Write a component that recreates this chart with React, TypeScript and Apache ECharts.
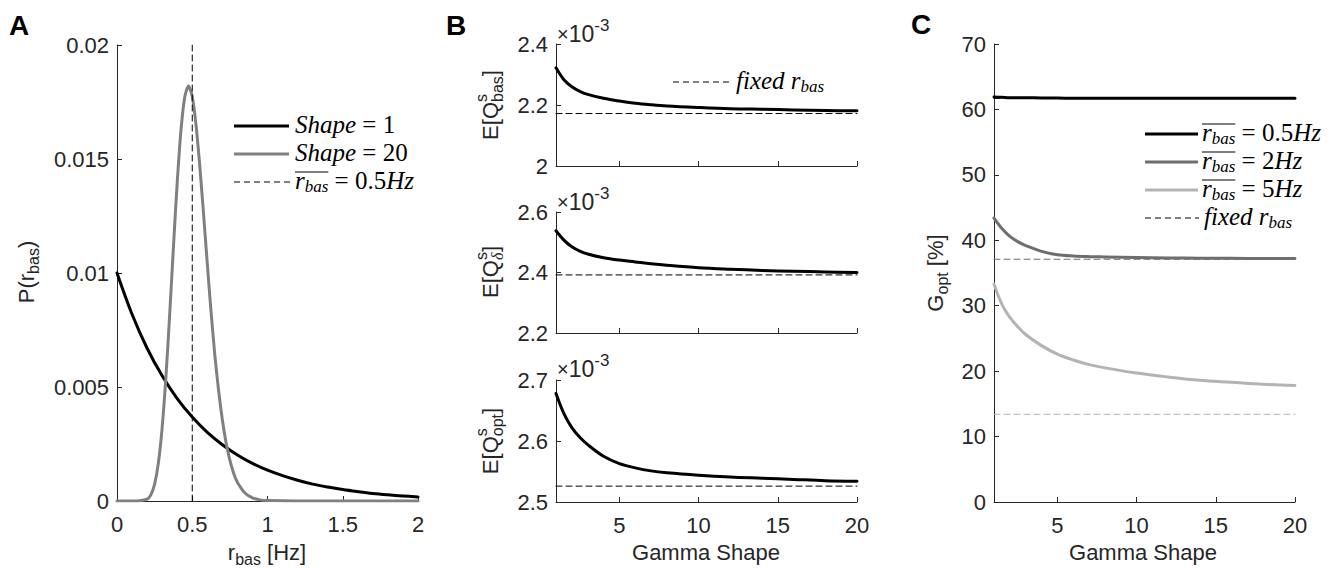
import React, { useEffect, useRef } from "react";
import * as echarts from "echarts";

// ---------------- DATA ----------------
// Panel A: distribution of basal rate
const rateX1 = [0, 0.1, 0.2, 0.3, 0.4, 0.5, 0.6, 0.7, 0.8, 0.9, 1.0, 1.1, 1.2, 1.3, 1.4, 1.5, 1.6, 1.7, 1.8, 1.9, 2.0];
const shape1P = [0.01, 0.00819, 0.0067, 0.00549, 0.00449, 0.00368, 0.00301, 0.00247, 0.00202, 0.00165, 0.00135, 0.00111, 0.00091, 0.00074, 0.00061, 0.0005, 0.00041, 0.00033, 0.00027, 0.00022, 0.00018];
const rateX20 = [0, 0.05, 0.1, 0.15, 0.2, 0.225, 0.25, 0.275, 0.3, 0.325, 0.35, 0.375, 0.4, 0.425, 0.45, 0.475, 0.5, 0.525, 0.55, 0.575, 0.6, 0.625, 0.65, 0.675, 0.7, 0.725, 0.75, 0.775, 0.8, 0.85, 0.9, 0.95, 1.0, 1.2, 1.5, 2.0];
const shape20P = [0, 0, 0, 0.00001, 0.00008, 0.00027, 0.00074, 0.00167, 0.00322, 0.00543, 0.00818, 0.01114, 0.01396, 0.01626, 0.01771, 0.0182, 0.01774, 0.0165, 0.0147, 0.0126, 0.0104, 0.0083, 0.0064, 0.00485, 0.00356, 0.00254, 0.00179, 0.00122, 0.00082, 0.00035, 0.00014, 0.00005, 0.00002, 0, 0, 0];
const meanRate = 0.5;
const aXTicks = { min: 0, max: 2, interval: 0.5 };
const aYTicks = { min: 0, max: 0.02, interval: 0.005 };

// Panels B & C: vs gamma shape
const gammaShape = [1, 1.5, 2, 2.5, 3, 4, 5, 6, 7, 8, 10, 12, 14, 16, 18, 20];
const qBas = [2.322, 2.283, 2.26, 2.245, 2.235, 2.222, 2.213, 2.206, 2.201, 2.197, 2.192, 2.188, 2.186, 2.184, 2.182, 2.181];
const qDelta = [2.538, 2.507, 2.485, 2.471, 2.461, 2.449, 2.441, 2.435, 2.429, 2.424, 2.416, 2.411, 2.407, 2.404, 2.402, 2.4];
const qOpt = [2.678, 2.645, 2.622, 2.606, 2.594, 2.575, 2.563, 2.556, 2.551, 2.548, 2.544, 2.541, 2.539, 2.537, 2.535, 2.534];
const qBasFixed = 2.172;
const qDeltaFixed = 2.392;
const qOptFixed = 2.526;

const gOpt05 = [61.9, 61.85, 61.8, 61.8, 61.8, 61.75, 61.75, 61.7, 61.7, 61.7, 61.7, 61.7, 61.7, 61.7, 61.7, 61.7];
const gOpt2 = [43.4, 41.8, 40.6, 39.8, 39.2, 38.3, 37.8, 37.6, 37.5, 37.45, 37.35, 37.3, 37.26, 37.24, 37.22, 37.2];
const gOpt5 = [33.3, 30.2, 28.2, 26.8, 25.6, 23.9, 22.6, 21.7, 21.0, 20.5, 19.7, 19.1, 18.6, 18.3, 18.0, 17.8];
const gFixed05 = 61.7;
const gFixed2 = 37.1;
const gFixed5 = 13.4;

const shapeTicks = [5, 10, 15, 20];

// ---------------- HELPERS ----------------
const SANS = "Liberation Sans";
const SERIF = "Liberation Serif";
const AXC = "#262626";
const LF = 25; // legend math font size
const LS = 17; // legend subscript size

let mctx: CanvasRenderingContext2D | null = null;
function textWidth(t: string, font: string) {
  if (!mctx) mctx = document.createElement("canvas").getContext("2d");
  if (!mctx) return t.length * 10;
  mctx.font = font;
  return mctx.measureText(t).width;
}

interface Part { t: string; size: number; fam?: string; it?: boolean; bold?: boolean; dy?: number; hold?: boolean; over?: boolean }

function buildRow(parts: Part[], o: { x: number; y: number; align: "left" | "center"; color?: string; rotate?: boolean; overY?: number }) {
  const color = o.color || AXC;
  const children: any[] = [];
  let x = 0, holdW = 0;
  let oS: number | null = null, oE = 0;
  for (const p of parts) {
    const fam = p.fam || SANS;
    const font = `${p.it ? "italic " : ""}${p.bold ? "bold " : ""}${p.size}px "${fam}"`;
    const w = textWidth(p.t, font);
    children.push({
      type: "text", x, y: p.dy || 0, silent: true,
      style: {
        text: p.t, fontSize: p.size, fontFamily: fam, fontStyle: p.it ? "italic" : "normal",
        fontWeight: p.bold ? "bold" : "normal", fill: color,
        align: "left", verticalAlign: "middle", textAlign: "left", textVerticalAlign: "middle",
      },
    });
    const adv = Math.max(w, holdW);
    if (p.over) { if (oS === null) oS = x; oE = x + (p.hold ? w : adv); }
    if (p.hold) { holdW = w; } else { x += adv; holdW = 0; }
  }
  const shift = o.align === "center" ? -x / 2 : 0;
  children.forEach((c) => (c.x += shift));
  if (oS !== null) {
    const oy = o.overY ?? -9;
    children.push({ type: "line", silent: true, shape: { x1: oS + shift, y1: oy, x2: oE + shift, y2: oy }, style: { stroke: color, lineWidth: 1 } });
  }
  return { type: "group", x: o.x, y: o.y, rotation: o.rotate ? Math.PI / 2 : 0, children };
}

function legendLine(x1: number, x2: number, y: number, color: string, dashed: boolean) {
  return {
    type: "line", silent: true, shape: { x1, y1: y, x2, y2: y },
    style: { stroke: color, lineWidth: dashed ? 1 : 3, lineDash: dashed ? [6, 4] : null },
  };
}

function rbar(rest: string, x: number, y: number) {
  return buildRow(
    [
      { t: "r", size: LF, fam: SERIF, it: true, over: true },
      { t: "bas", size: LS, fam: SERIF, it: true, dy: 6, over: true },
      { t: rest, size: LF, fam: SERIF },
      { t: "Hz", size: LF, fam: SERIF, it: true },
    ],
    { x, y, align: "left", color: "#000", overY: -8 }
  );
}

function fixedLabel(x: number, y: number) {
  return buildRow([{ t: "fixed r", size: LF, fam: SERIF, it: true }, { t: "bas", size: LS, fam: SERIF, it: true, dy: 6 }], { x, y, align: "left", color: "#000" });
}

function pairs(xs: number[], ys: number[]) { return xs.map((x, i) => [x, ys[i]]); }

const axisBase = {
  axisLine: { show: true, onZero: false, lineStyle: { color: AXC, width: 1 } },
  axisTick: { show: true, inside: true, length: 5, lineStyle: { color: AXC, width: 1 } },
  axisLabel: { color: AXC, fontSize: 22, fontFamily: SANS },
  splitLine: { show: false },
};

function lineSeries(name: string, x: number, data: any[], color: string, width: number, dashed = false, smooth: any = 0.35) {
  return {
    name, type: "line", xAxisIndex: x, yAxisIndex: x, data, showSymbol: false, symbol: "none",
    smooth: dashed ? false : smooth, silent: true,
    lineStyle: { color, width, type: dashed ? [6, 4] : "solid", cap: "round", join: "round" },
  };
}

export default function App() {
  const ref = useRef<HTMLDivElement>(null);
  useEffect(() => {
    if (!ref.current) return;
    const chart = echarts.init(ref.current, null, { renderer: "svg" });

    const shapeX = (gi: number, showLabels: boolean) => ({
      ...axisBase, type: "value", gridIndex: gi, min: 1, max: 20,
      axisTick: { ...axisBase.axisTick, customValues: shapeTicks },
      axisLabel: { ...axisBase.axisLabel, show: showLabels, margin: 12, customValues: shapeTicks },
    });
    const yAx = (gi: number, min: number, max: number, interval: number) => ({
      ...axisBase, type: "value", gridIndex: gi, min, max, interval,
      axisLabel: { ...axisBase.axisLabel, margin: 8 },
    });

    const expo = (x: number, y: number) =>
      buildRow([{ t: "×", size: 20 }, { t: "10", size: 23 }, { t: "-3", size: 17, dy: -9 }], { x, y, align: "left" });

    const graphics: any[] = [
      // panel letters
      buildRow([{ t: "A", size: 28, bold: true }], { x: 9, y: 25, align: "left", color: "#000" }),
      buildRow([{ t: "B", size: 28, bold: true }], { x: 446, y: 25, align: "left", color: "#000" }),
      buildRow([{ t: "C", size: 28, bold: true }], { x: 911, y: 24, align: "left", color: "#000" }),
      // axis titles
      buildRow([{ t: "P(r", size: 22 }, { t: "bas", size: 16, dy: 7 }, { t: ")", size: 22 }], { x: 26, y: 272, align: "center", rotate: true }),
      buildRow([{ t: "r", size: 22 }, { t: "bas", size: 16, dy: 7 }, { t: " [Hz]", size: 22 }], { x: 267, y: 552, align: "center" }),
      buildRow([{ t: "E[Q", size: 22 }, { t: "s", size: 16, dy: -9, hold: true }, { t: "bas", size: 16, dy: 7 }, { t: "]", size: 22 }], { x: 490, y: 105, align: "center", rotate: true }),
      buildRow([{ t: "E[Q", size: 22 }, { t: "s", size: 16, dy: -9, hold: true }, { t: "δ", size: 16, fam: SERIF, it: true, dy: 7 }, { t: "]", size: 22 }], { x: 490, y: 272, align: "center", rotate: true }),
      buildRow([{ t: "E[Q", size: 22 }, { t: "s", size: 16, dy: -9, hold: true }, { t: "opt", size: 16, dy: 7 }, { t: "]", size: 22 }], { x: 490, y: 441, align: "center", rotate: true }),
      buildRow([{ t: "Gamma Shape", size: 22 }], { x: 706, y: 552, align: "center" }),
      buildRow([{ t: "G", size: 22 }, { t: "opt", size: 16, dy: 7 }, { t: " [%]", size: 22 }], { x: 935, y: 273, align: "center", rotate: true }),
      buildRow([{ t: "Gamma Shape", size: 22 }], { x: 1143, y: 552, align: "center" }),
      // exponent labels
      expo(557, 34),
      expo(557, 202),
      expo(557, 369),
      // legend A
      legendLine(234, 289, 126, "#000", false),
      buildRow([{ t: "Shape", size: LF, fam: SERIF, it: true }, { t: " = 1", size: LF, fam: SERIF }], { x: 295, y: 124, align: "left", color: "#000" }),
      legendLine(234, 289, 154, "#808080", false),
      buildRow([{ t: "Shape", size: LF, fam: SERIF, it: true }, { t: " = 20", size: LF, fam: SERIF }], { x: 295, y: 152, align: "left", color: "#000" }),
      legendLine(234, 290, 182, "#000", true),
      rbar(" = 0.5", 295, 180),
      // legend B
      legendLine(673, 731, 82, "#000", true),
      fixedLabel(736, 80),
      // legend C
      legendLine(1145, 1198, 134, "#000", false),
      rbar(" = 0.5", 1202, 132),
      legendLine(1145, 1198, 162, "#6e6e6e", false),
      rbar(" = 2", 1202, 160),
      legendLine(1145, 1198, 190, "#b3b3b3", false),
      rbar(" = 5", 1202, 188),
      legendLine(1145, 1199, 218, "#000", true),
      fixedLabel(1204, 216),
    ];

    const option: any = {
      animation: false,
      backgroundColor: "#fff",
      grid: [
        { left: 117, top: 45, width: 301, height: 456 },
        { left: 556, top: 44, width: 301, height: 122 },
        { left: 556, top: 212, width: 301, height: 121 },
        { left: 556, top: 380, width: 301, height: 122 },
        { left: 994, top: 44, width: 301, height: 458 },
      ],
      xAxis: [
        { ...axisBase, type: "value", gridIndex: 0, ...aXTicks, axisLabel: { ...axisBase.axisLabel, margin: 12 } },
        shapeX(1, false),
        shapeX(2, false),
        shapeX(3, true),
        shapeX(4, true),
      ],
      yAxis: [
        yAx(0, aYTicks.min, aYTicks.max, aYTicks.interval),
        yAx(1, 2.0, 2.4, 0.2),
        yAx(2, 2.2, 2.6, 0.2),
        yAx(3, 2.5, 2.7, 0.1),
        yAx(4, 0, 70, 10),
      ],
      series: [
        lineSeries("Shape = 1", 0, pairs(rateX1, shape1P), "#000", 3),
        lineSeries("Shape = 20", 0, pairs(rateX20, shape20P), "#808080", 3, false, 0.25),
        lineSeries("mean rate", 0, [[meanRate, aYTicks.min], [meanRate, aYTicks.max]], "#000", 1, true),

        lineSeries("E[Qbas]", 1, pairs(gammaShape, qBas), "#000", 3),
        lineSeries("fixed bas", 1, [[1, qBasFixed], [20, qBasFixed]], "#000", 1, true),
        lineSeries("E[Qdelta]", 2, pairs(gammaShape, qDelta), "#000", 3),
        lineSeries("fixed delta", 2, [[1, qDeltaFixed], [20, qDeltaFixed]], "#000", 1, true),
        lineSeries("E[Qopt]", 3, pairs(gammaShape, qOpt), "#000", 3),
        lineSeries("fixed opt", 3, [[1, qOptFixed], [20, qOptFixed]], "#000", 1, true),

        lineSeries("fixed 0.5", 4, [[1, gFixed05], [20, gFixed05]], "#000", 1, true),
        lineSeries("fixed 2", 4, [[1, gFixed2], [20, gFixed2]], "#6e6e6e", 1, true),
        lineSeries("fixed 5", 4, [[1, gFixed5], [20, gFixed5]], "#b3b3b3", 1, true),
        lineSeries("0.5Hz", 4, pairs(gammaShape, gOpt05), "#000", 3),
        lineSeries("2Hz", 4, pairs(gammaShape, gOpt2), "#6e6e6e", 3),
        lineSeries("5Hz", 4, pairs(gammaShape, gOpt5), "#b3b3b3", 3),
      ],
      graphic: graphics,
    };
    chart.setOption(option);
    return () => chart.dispose();
  }, []);
  return <div ref={ref} style={{ position: "absolute", left: 0, top: 0, width: 1343, height: 569, background: "#fff" }} />;
}
